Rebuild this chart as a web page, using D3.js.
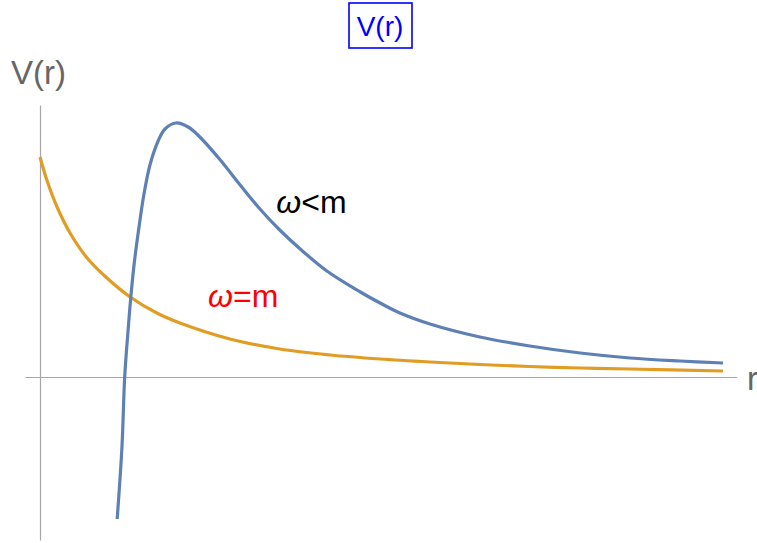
<!DOCTYPE html>
<html lang="en">
<head>
<meta charset="utf-8" />
<title>V(r)</title>
<style>
   html,body { margin:0; padding:0; background:white; }
   svg { display:block; font-family:"Liberation Sans",Arial,sans-serif; }
</style>
<script src="https://d3js.org/d3.v7.min.js"></script>
</head>
<body>
<script>
// values (r, V)
let blue_r = [1.13,1.20,1.24,1.29,1.33,1.38,1.46,1.52,1.61,1.73,1.83,1.99,2.17,2.34,2.64,2.93,3.22,3.51,3.81,4.20,4.69,4.98,5.27,5.71,6.44,7.17,7.91,8.64,9.37,10];
let blue_v = [-1.42,-0.70,0,0.47,0.80,1.14,1.55,1.82,2.12,2.36,2.48,2.54,2.50,2.40,2.17,1.92,1.68,1.47,1.28,1.06,0.85,0.74,0.64,0.53,0.40,0.31,0.24,0.19,0.16,0.14];
let orange_r = [0,0.10,0.25,0.44,0.69,0.98,1.32,1.71,2.05,2.78,3.51,4.25,4.98,5.71,6.44,7.17,7.91,8.64,10];
let orange_v = [2.20,1.97,1.70,1.44,1.19,0.99,0.80,0.64,0.54,0.38,0.28,0.22,0.18,0.15,0.125,0.105,0.09,0.08,0.06];
let labels = [
   {r:3.46, v:1.64, txt:'<', color:'black'},
   {r:2.46, v:0.70, txt:'=', color:'red'},
];

let width = 757, height = 543;
let x = d3.scaleLinear().domain([0,10]).range([40,723]);
let y = d3.scaleLinear().domain([-1.63,2.74]).range([540,103]);

const svg = d3.select('body').append('svg')
   .attr('width',width).attr('height',height)
   .attr('viewBox',[0,0,width,height]);

// axes, no ticks
let xa = x.copy().domain([-0.22,10.2]).range([x(-0.22),x(10.2)]);
svg.append('g')
   .attr('transform',`translate(0,${y(0)})`)
   .call(d3.axisBottom(xa).tickValues([]).tickSizeOuter(0))
   .call(g => g.select('.domain').attr('stroke','#a6a6a6').attr('stroke-width',1.2));
svg.append('g')
   .attr('transform',`translate(${x(0)},0)`)
   .call(d3.axisLeft(y.copy().domain([-1.63,2.72]).range([y(-1.63),y(2.72)])).tickValues([]).tickSizeOuter(0))
   .call(g => g.select('.domain').attr('stroke','#a6a6a6').attr('stroke-width',1.2));

svg.append('text').attr('x',11).attr('y',84)
   .attr('font-size',33).attr('fill','#666').text('V(r)');
svg.append('text').attr('x',747).attr('y',390)
   .attr('font-size',33).attr('fill','#666').text('r');

// curves
let line = d3.line().x(d => x(d[0])).y(d => y(d[1])).curve(d3.curveCatmullRom.alpha(0.5));
svg.append('path')
   .datum(orange_r.map((r,i) => [r,orange_v[i]]))
   .attr('d',line).attr('fill','none').attr('stroke','#e19c24').attr('stroke-width',3.2);
svg.append('path')
   .datum(blue_r.map((r,i) => [r,blue_v[i]]))
   .attr('d',line).attr('fill','none').attr('stroke','#5e81b5').attr('stroke-width',3.2);

// curve labels
for (let l of labels) {
   let t = svg.append('text').attr('x',x(l.r)).attr('y',y(l.v))
      .attr('font-size',32).attr('fill',l.color);
   t.append('tspan').attr('font-style','italic').text('\u03c9');
   t.append('tspan').text(l.txt+'m');
}

// boxed title
svg.append('rect')
   .attr('x',349).attr('y',3).attr('width',63).attr('height',45)
   .attr('fill','none').attr('stroke','#0000ff').attr('stroke-width',1.6);
svg.append('text').attr('x',380).attr('y',36)
   .attr('text-anchor','middle').attr('font-size',28).attr('fill','#0000ff').text('V(r)');
</script>
</body>
</html>
